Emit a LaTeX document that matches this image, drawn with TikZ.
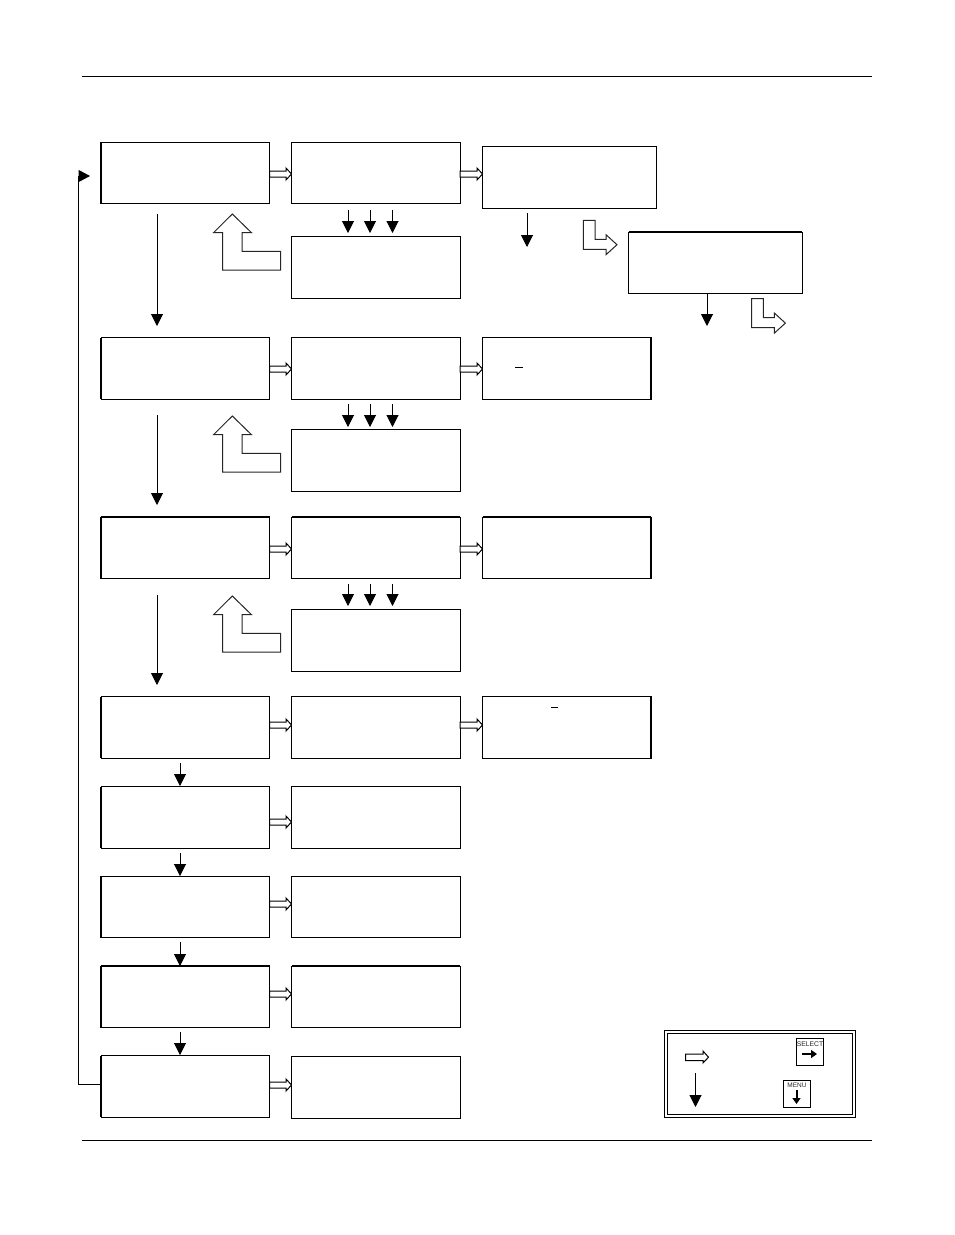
\documentclass[tikz,border=0pt]{standalone}
\usepackage{fontspec}
\setmainfont{Liberation Sans}
\usetikzlibrary{arrows.meta,calc}
\tikzset{
  x=1pt,y=-1pt,
  lcd/.style={draw=black,line width=1pt,fill=white,anchor=north west,inner sep=0pt,outer sep=0pt,minimum height=61.5pt,minimum width=168.5pt},
  lcdwide/.style={lcd,minimum width=173.5pt},
  drop/.style={draw=black,line width=1pt,-{Triangle[length=12pt,width=12pt]}},
  hollow/.style={draw=black,line width=1pt,fill=white,line join=miter},
  elbowarrow/.style={draw=black!85,line width=1pt,fill=white,line join=miter},
  rule/.style={draw=black,line width=1pt},
  heavy/.style={draw=black,line width=2pt},
  keycap/.style={draw=black,line width=1pt,fill=white,anchor=north west,inner sep=0pt,outer sep=0pt,minimum width=27pt,minimum height=27pt},
  keytext/.style={inner sep=0pt,font=\fontsize{6.8}{7}\selectfont,text=black!85},
  keyarrow/.style={draw=black,line width=2pt,-{Triangle[length=6pt,width=8pt]}},
}
% hollow connector between two named boxes, at height #3
\newcommand{\hollowconn}[3]{%
  \coordinate (hy) at (0,#3);
  \path[hollow] let \p1=(#1.east),\p2=(#2.west),\p3=(hy) in
    (\x1,\y3+3pt) -- (\x2-5.5pt,\y3+3pt) -- (\x2-5.5pt,\y3+6pt) -- (\x2,\y3) --
    (\x2-5.5pt,\y3-6pt) -- (\x2-5.5pt,\y3-3pt) -- (\x1,\y3-3pt) -- cycle;}
\newcommand{\uparrowL}[1]{%
  \path[elbowarrow] (232.3,214+#1) -- (251.5,232.7+#1) -- (242,232.7+#1) -- (242,251.3+#1) -- (280.7,251.3+#1) --
    (280.7,270+#1) -- (222.7,270+#1) -- (222.7,232.7+#1) -- (213.5,232.7+#1) -- cycle;}
\newcommand{\rightarrowL}[2]{%
  \path[elbowarrow] (583.3+#1,220.3+#2) -- (595+#1,220.3+#2) -- (595+#1,239.3+#2) -- (606+#1,239.3+#2) --
    (606+#1,234.7+#2) -- (617+#1,244.7+#2) -- (606+#1,254.7+#2) -- (606+#1,249.3+#2) -- (583.3+#1,249.3+#2) -- cycle;}
\newcommand{\dropconn}[4]{%
  \coordinate (#1s) at (#2,#3);
  \coordinate (#1e) at (#2,#4);
  \draw[drop] (#1s) -- (#1e);}
\begin{document}
\begin{tikzpicture}
\useasboundingbox (0,0) rectangle (954,1235);
\fill[white] (0,0) rectangle (954,1235);
\coordinate (ruleAl) at (82,76.5); \coordinate (ruleAr) at (872,76.5);
\coordinate (ruleBl) at (82,1140.5); \coordinate (ruleBr) at (872,1140.5);
\draw[rule] (ruleAl) -- (ruleAr);
\draw[rule] (ruleBl) -- (ruleBr);

% column 1
\node[lcd] (a1) at (101,142) {};
\node[lcd] (a2) at (101,337.5) {};
\node[lcd] (a3) at (101,517) {};
\node[lcd] (a4) at (101,696.7) {};
\node[lcd] (a5) at (101,786.5) {};
\node[lcd] (a6) at (101,876) {};
\node[lcd] (a7) at (101,966) {};
\node[lcd] (a8) at (101,1055.5) {};
% column 2
\node[lcd] (b1) at (291.5,142) {};
\node[lcd] (b2) at (291.5,337.5) {};
\node[lcd] (b3) at (291.5,517) {};
\node[lcd] (b4) at (291.5,696.7) {};
\node[lcd] (b5) at (291.5,786.5) {};
\node[lcd] (b6) at (291.5,876) {};
\node[lcd] (b7) at (291.5,966) {};
\node[lcd] (b8) at (291.5,1056.5) {};
% sub boxes
\node[lcd] (s1) at (291.5,236.5) {};
\node[lcd] (s2) at (291.5,429.5) {};
\node[lcd] (s3) at (291.5,609.5) {};
% column 3
\node[lcdwide] (c1) at (482.5,146.5) {};
\node[lcd] (c2) at (482.5,337.5) {};
\node[lcd] (c3) at (482.5,517) {};
\node[lcd] (c4) at (482.5,696.7) {};
\node[lcdwide] (d1) at (628.5,232) {};

% heavier edges
\foreach \n in {a1,a2,a3,a4,a5,a6,a7,a8}{\draw[heavy] (\n.north west) -- (\n.south west);}
\foreach \n in {c2,c3,c4}{\draw[heavy] (\n.north east) -- (\n.south east);}
\foreach \n in {a3,a7,b3,b7,d1,c3}{\draw[heavy] (\n.north west) -- (\n.north east);}

% hollow connectors
\foreach \srcn/\dstn/\hgt in {a1/b1/174,b1/c1/174,a2/b2/369,b2/c2/369,a3/b3/549,b3/c3/549,a4/b4/725,b4/c4/725,a5/b5/822,a6/b6/904,a7/b7/994,a8/b8/1085}{\hollowconn{\srcn}{\dstn}{\hgt}}

% solid downward arrows
\dropconn{m1}{157}{214}{326}
\dropconn{m2}{157}{415}{505}
\dropconn{m3}{157}{595}{685}
\dropconn{m4}{180}{763}{786}
\dropconn{m5}{180}{853}{876}
\dropconn{m6}{180}{942}{966}
\dropconn{m7}{180}{1032}{1055}
\foreach \rw/\tp/\bt in {1/210/233,2/404/427,3/584/606}{
  \dropconn{p\rw}{348}{\tp}{\bt}
  \dropconn{q\rw}{370}{\tp}{\bt}
  \dropconn{u\rw}{392.5}{\tp}{\bt}
}
\dropconn{v1}{527}{213}{247}
\dropconn{v2}{707}{292.5}{326}

% return line
\coordinate (backA) at (78.5,1084);
\coordinate (backB) at (78.5,176);
\coordinate (backC) at (90,176);
\draw[rule,line join=miter,-{Triangle[length=11.5pt,width=12pt]}] (a8.west |- backA) -- (backA) -- (backB) -- (backC);

% L-shaped block arrows
\uparrowL{0}
\uparrowL{202}
\uparrowL{382}
\rightarrowL{0}{0}
\rightarrowL{168.4}{78.4}

% underscores
\coordinate (ua) at (515,367.5); \coordinate (ub) at (523,367.5);
\coordinate (uc) at (551,707.5); \coordinate (ud) at (558,707.5);
\draw[rule] (ua) -- (ub);
\draw[rule] (uc) -- (ud);

% legend
\coordinate (leg1) at (664.5,1030.5); \coordinate (leg2) at (855.5,1117);
\coordinate (leg3) at (667.5,1033.5); \coordinate (leg4) at (852.5,1114);
\draw[rule] (leg1) rectangle (leg2);
\draw[rule] (leg3) rectangle (leg4);
\path[hollow] (685.5,1054) -- (703,1054) -- (703,1051) -- (708.5,1057.2) -- (703,1063) -- (703,1060.5) -- (685.5,1060.5) -- cycle;
\dropconn{lv}{695.5}{1073}{1107}
\node[keycap] (keyS) at (796.5,1038.5) {};
\node[keytext] (keySt) at (810,1044) {SELECT};
\coordinate (kSa) at (802,1054); \coordinate (kSb) at (817,1054);
\draw[keyarrow] (kSa) -- (kSb);
\node[keycap] (keyM) at (783.5,1080) {};
\node[keytext,font=\fontsize{6.5}{7}\selectfont] (keyMt) at (797,1085) {MENU};
\coordinate (kMa) at (796.5,1090); \coordinate (kMb) at (796.5,1104);
\draw[keyarrow] (kMa) -- (kMb);
\end{tikzpicture}
\end{document}
